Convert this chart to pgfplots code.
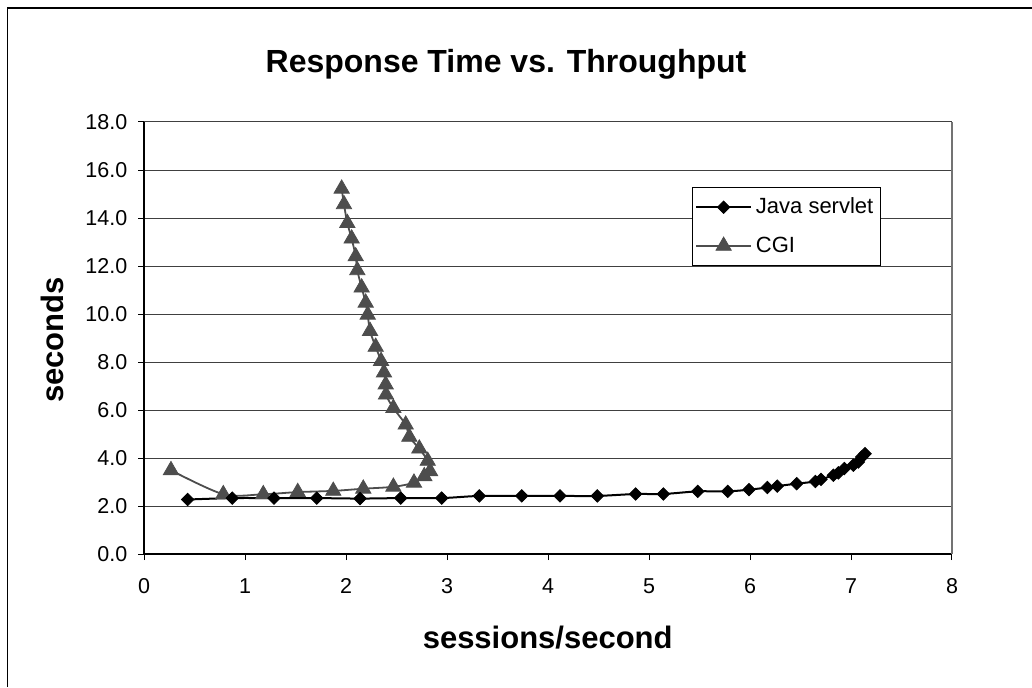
\documentclass[border=0pt]{standalone}
\usepackage{fontspec}
\setmainfont{Liberation Sans}
\usepackage{pgfplots}
\pgfplotsset{compat=1.18}
\definecolor{cgigray}{HTML}{4D4D4D}
\begin{document}
\begin{tikzpicture}
\useasboundingbox (0,0) rectangle (516pt,343.5pt);
\draw[line width=0.8pt] (3.75pt,0pt) -- (3.75pt,339.5pt) -- (516pt,339.5pt);
\begin{axis}[
  at={(72pt,66.5pt)}, anchor=south west,
  scale only axis, width=404pt, height=216pt,
  xmin=0, xmax=8, ymin=0, ymax=18,
  xtick={0,1,...,8}, ytick={0,2,...,18},
  axis x line*=bottom, axis y line*=left,
  axis line style={black, line width=0.8pt, -},
  tick align=outside, major tick length=3pt,
  tick style={black, line width=0.5pt},
  ymajorgrids, grid style={black!75, line width=0.5pt},
  /pgf/number format/assume math mode=true,
  ticklabel style={font=\fontsize{10.75}{12}\selectfont},
  xticklabel style={inner sep=0pt, text height=7.7pt, text depth=0pt, yshift=-9pt},
  yticklabel style={inner sep=0pt, xshift=-5.15pt, /pgf/number format/.cd, fixed, fixed zerofill, precision=1},
  clip=false,
  reverse legend,
  legend cell align=left,
  legend image code/.code={\draw[mark repeat=2,mark phase=2] plot coordinates {(0cm,0cm) (0.48cm,0cm) (0.96cm,0cm)};},
  legend style={at={(rel axis cs:0.678,0.849)}, anchor=north west, draw=black, line width=0.5pt, fill=white,
    font=\fontsize{11}{12}\selectfont, inner xsep=1.5pt, inner ysep=3pt, row sep=6pt},
]
\draw[black!55, line width=0.6pt] (rel axis cs:1,0) -- (rel axis cs:1,1);
\addplot[color=cgigray, line width=0.9pt, smooth, mark=triangle*, mark size=4.4pt,
  mark options={fill=cgigray, draw=cgigray, solid, line width=0.4pt}] coordinates {
(0.267,3.49) (0.785,2.49) (1.181,2.49) (1.522,2.58) (1.874,2.63) (2.171,2.72)
(2.469,2.80) (2.673,2.97) (2.775,3.24) (2.832,3.45) (2.809,3.88) (2.726,4.39)
(2.627,4.88) (2.591,5.39) (2.469,6.08) (2.396,6.64) (2.393,7.06) (2.376,7.56)
(2.347,8.04) (2.294,8.63) (2.238,9.29) (2.215,9.97) (2.195,10.47) (2.155,11.10)
(2.112,11.82) (2.096,12.40) (2.056,13.14) (2.013,13.79) (1.980,14.57) (1.957,15.22)
};
\addlegendentry{CGI}
\addplot[black, line width=1pt, smooth, mark=square*, mark size=2.2pt,
  mark options={fill=black, solid, rotate=45, line width=0.4pt}] coordinates {
(0.432,2.27) (0.874,2.33) (1.287,2.33) (1.710,2.33) (2.139,2.31) (2.541,2.33)
(2.947,2.33) (3.320,2.42) (3.740,2.42) (4.119,2.42) (4.488,2.42) (4.868,2.50)
(5.142,2.50) (5.482,2.61) (5.779,2.61) (5.990,2.68) (6.172,2.77) (6.270,2.83)
(6.462,2.93) (6.647,3.02) (6.703,3.11) (6.825,3.28) (6.875,3.38) (6.934,3.56)
(7.023,3.70) (7.073,3.83) (7.106,4.04) (7.139,4.18)
};
\addlegendentry{Java servlet}
\end{axis}
\node[font=\bfseries\fontsize{16}{19}\selectfont, anchor=base] at (253pt,307pt) {Response Time vs. Throughput};
\node[font=\bfseries\fontsize{15.5}{18}\selectfont, anchor=base] at (273.85pt,19.5pt) {sessions/second};
\node[font=\bfseries\fontsize{15.5}{18}\selectfont, anchor=base, rotate=90] at (31.65pt,173.5pt) {seconds};
\end{tikzpicture}
\end{document}
